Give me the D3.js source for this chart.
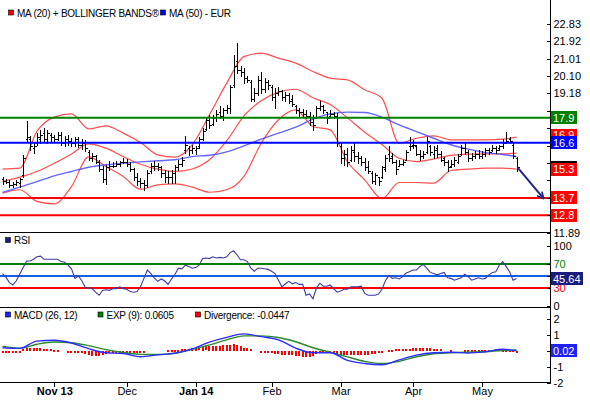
<!DOCTYPE html>
<html>
<head>
<meta charset="utf-8">
<script src="https://cdnjs.cloudflare.com/ajax/libs/d3/7.8.5/d3.min.js"></script>
<style>
  body { margin: 0; background: #ffffff; }
  svg { display: block; font-family: "Liberation Sans", Arial, sans-serif; }
</style>
</head>
<body>
<div id="chart"></div>
<script>
// ---------------------------------------------------------------
// Data (daily bars, Oct 2013 - May 2014, one entry per trading day)
var monthTicks  = [15, 36, 56, 78, 98, 119, 139];
var monthLabels = ['Nov 13', 'Dec', 'Jan 14', 'Feb', 'Mar', 'Apr', 'May'];

var opens = [
  14.7, 14.6, 14.55, 14.4, 14.45, 14.5, 14.9, 16.8, 16.8, 16.3,
  16.6, 16.8, 17.1, 16.8, 17.0, 16.9, 16.8, 17.0, 16.6, 16.8,
  16.7, 16.6, 16.8, 16.5, 16.6, 16.1, 15.8, 15.9, 15.6, 15.2,
  14.7, 15.3, 15.4, 15.4, 15.5, 15.6, 15.6, 15.5, 15.2, 14.8,
  14.6, 14.5, 14.4, 15.1, 15.4, 15.4, 15.3, 15.0, 14.8, 14.8,
  15.0, 15.3, 15.5, 16.2, 16.3, 16.2, 16.2, 16.4, 16.8, 17.3,
  17.8, 17.6, 17.9, 18.2, 18.0, 18.3, 18.4, 19.6, 20.9, 20.4,
  20.3, 20.0, 19.8, 18.9, 19.2, 19.9, 19.4, 19.8, 19.5, 19.0,
  19.2, 19.3, 19.0, 19.1, 18.9, 18.5, 18.3, 18.2, 18.1, 18.0,
  17.7, 17.9, 18.4, 18.5, 18.2, 18.0, 18.1, 18.0, 16.4, 15.8,
  16.0, 15.7, 16.1, 15.9, 15.8, 15.6, 15.3, 15.0, 14.6, 14.8,
  14.8, 15.2, 16.0, 15.9, 15.6, 15.4, 15.5, 15.7, 16.4, 16.5,
  16.4, 16.0, 15.9, 16.1, 16.4, 16.0, 16.3, 16.0, 15.8, 15.6,
  15.4, 15.5, 15.6, 16.0, 16.3, 16.1, 15.8, 15.9, 16.0, 15.9,
  16.0, 16.2, 16.2, 16.3, 16.3, 16.4, 16.6, 16.8, 16.5, 15.8
];
var highs = [
  14.82, 14.68, 14.65, 14.56, 14.65, 14.73, 15.95, 17.71, 16.96, 16.57,
  17.10, 17.27, 17.36, 17.27, 17.10, 17.01, 17.18, 17.18, 16.96, 17.01,
  16.84, 16.92, 16.92, 16.79, 16.75, 16.22, 16.05, 15.96, 15.70, 15.35,
  15.44, 15.62, 15.56, 15.62, 15.66, 15.79, 15.74, 15.56, 15.27, 15.00,
  14.73, 14.65, 15.17, 15.53, 15.62, 15.53, 15.35, 15.17, 15.09, 15.17,
  15.44, 15.70, 15.85, 16.96, 16.40, 16.48, 16.40, 16.92, 17.36, 17.97,
  18.06, 18.06, 18.32, 18.50, 18.41, 18.58, 19.63, 21.20, 21.82, 20.60,
  20.50, 20.10, 19.89, 19.46, 20.07, 20.28, 19.98, 19.89, 19.63, 19.46,
  19.51, 19.37, 19.28, 19.20, 19.11, 18.58, 18.41, 18.36, 18.32, 18.23,
  18.06, 18.54, 18.76, 18.58, 18.23, 18.32, 18.23, 18.18, 16.57, 16.22,
  16.31, 16.40, 16.57, 16.10, 15.92, 15.79, 15.62, 15.09, 15.00, 14.82,
  15.35, 15.96, 16.40, 16.05, 15.70, 15.70, 15.70, 16.22, 16.92, 16.75,
  16.48, 16.22, 16.14, 16.92, 16.48, 16.40, 16.48, 16.14, 15.87, 15.70,
  15.70, 15.87, 16.01, 16.48, 16.57, 16.22, 16.05, 16.14, 16.22, 16.14,
  16.31, 16.31, 16.48, 16.40, 16.48, 16.78, 17.18, 16.92, 16.57, 15.87
];
var lows = [
  14.44, 14.47, 14.30, 14.27, 14.40, 14.30, 14.82, 16.66, 16.22, 16.08,
  16.50, 16.57, 16.66, 16.57, 16.66, 16.66, 16.75, 16.48, 16.40, 16.48,
  16.40, 16.40, 16.36, 16.26, 16.14, 15.70, 15.66, 15.53, 15.09, 14.56,
  14.44, 15.17, 15.32, 15.35, 15.40, 15.53, 15.35, 15.09, 14.65, 14.40,
  14.30, 14.10, 14.30, 15.00, 15.17, 15.17, 14.82, 14.56, 14.47, 14.50,
  14.47, 15.17, 15.40, 16.05, 15.96, 16.08, 16.01, 16.31, 16.75, 17.27,
  17.36, 17.53, 17.71, 17.88, 17.80, 18.15, 18.18, 19.54, 20.25, 20.07,
  19.72, 19.80, 18.76, 18.76, 19.11, 19.20, 19.28, 19.40, 18.84, 18.41,
  19.11, 18.84, 18.76, 18.67, 18.50, 18.15, 17.97, 17.93, 17.88, 17.53,
  17.27, 17.88, 18.32, 18.15, 17.62, 17.97, 17.88, 16.40, 15.53, 15.44,
  15.35, 15.65, 15.62, 15.53, 15.44, 15.17, 15.00, 14.47, 14.44, 14.40,
  14.73, 15.09, 15.62, 15.53, 14.97, 15.35, 15.44, 15.70, 16.22, 16.31,
  15.96, 15.70, 15.79, 16.05, 15.96, 15.79, 15.87, 15.62, 15.44, 15.14,
  15.32, 15.35, 15.53, 15.96, 16.01, 15.62, 15.70, 15.79, 15.79, 15.79,
  15.92, 16.01, 16.14, 16.05, 16.22, 16.31, 16.57, 16.57, 15.79, 15.09
];
var closes = [
  14.6, 14.55, 14.4, 14.45, 14.55, 14.7, 15.8, 16.9, 16.4, 16.4,
  16.9, 17.0, 16.8, 17.1, 16.9, 16.8, 17.0, 16.6, 16.8, 16.7,
  16.6, 16.8, 16.5, 16.6, 16.3, 15.8, 15.9, 15.6, 15.2, 14.7,
  15.3, 15.4, 15.4, 15.5, 15.6, 15.6, 15.5, 15.2, 14.8, 14.6,
  14.5, 14.4, 15.0, 15.4, 15.4, 15.3, 15.0, 14.8, 14.8, 15.0,
  15.3, 15.5, 15.7, 16.5, 16.2, 16.3, 16.3, 16.8, 17.2, 17.8,
  17.5, 17.9, 18.1, 18.0, 18.3, 18.4, 19.5, 20.6, 20.4, 20.3,
  20.0, 19.9, 18.9, 19.2, 19.9, 19.4, 19.8, 19.6, 19.0, 19.2,
  19.3, 19.0, 19.1, 18.8, 18.6, 18.3, 18.2, 18.1, 18.0, 17.7,
  17.5, 18.4, 18.5, 18.3, 17.9, 18.1, 18.0, 16.6, 15.8, 16.0,
  15.6, 16.2, 15.9, 15.8, 15.6, 15.3, 15.1, 14.6, 14.9, 14.6,
  15.3, 15.8, 15.8, 15.6, 15.2, 15.5, 15.6, 16.1, 16.4, 16.5,
  16.0, 15.9, 16.0, 16.7, 16.1, 16.2, 16.0, 15.7, 15.6, 15.3,
  15.5, 15.7, 15.9, 16.3, 16.1, 15.8, 15.9, 16.0, 15.9, 16.0,
  16.2, 16.1, 16.3, 16.2, 16.4, 16.6, 16.7, 16.7, 15.9, 15.3
];

// indicator lines read every 5th bar
var bandIdx = [0, 5, 10, 15, 20, 25, 30, 35, 40, 45, 50, 55, 60, 65, 70, 75,
               80, 85, 90, 95, 100, 105, 110, 115, 120, 125, 130, 135, 140, 145, 149];
var upperBand = [15.21, 15.26, 17.2, 17.94, 18.11, 17.32, 17.48, 17.1, 16.61, 15.96,
                 15.84, 16.48, 18.06, 19.72, 21.11, 21.29, 21.03, 20.77, 20.33, 19.98,
                 19.89, 19.37, 18.93, 16.57, 16.83, 16.96, 16.75, 16.75, 16.75, 16.78, 16.89];
var ma20 = [14.56, 14.79, 15.09, 15.52, 16.01, 16.54, 16.31, 15.87, 15.47, 15.21,
            15.09, 15.22, 15.7, 16.7, 18.0, 18.8, 19.25, 19.4, 18.95, 18.6,
            17.9, 17.15, 16.5, 15.78, 15.61, 15.75, 15.93, 16.0, 16.01, 16.01, 16.05];
var lowerBand = [13.95, 14.13, 13.52, 13.39, 14.3, 15.85, 15.35, 14.83, 14.16, 14.39,
                 14.44, 14.27, 14.0, 14.13, 14.83, 16.57, 17.8, 18.32, 17.45, 17.27,
                 15.6, 14.65, 13.67, 14.51, 14.51, 14.48, 15.14, 15.21, 15.26, 15.26, 15.21];
var ma50 = [13.99, 14.27, 14.56, 14.86, 15.09, 15.31, 15.44, 15.52, 15.59, 15.65,
            15.7, 15.87, 15.94, 16.12, 16.43, 16.78, 17.1, 17.41, 17.83, 18.11,
            18.2, 18.18, 17.94, 17.53, 17.18, 16.83, 16.49, 16.26, 16.08, 15.98, 15.87];

var rsi = [
  54, 48, 39, 35, 42, 53, 64, 75, 75, 78,
  82, 83, 78, 78, 78, 78, 78, 74, 73, 68,
  62, 46, 50, 42, 31, 30, 29, 23, 18, 26,
  27, 26, 29, 29, 32, 29, 28, 24, 23, 24,
  32, 46, 60, 54, 47, 41, 45, 42, 36, 45,
  53, 63, 62, 68, 66, 63, 64, 68, 79, 80,
  79, 82, 80, 81, 80, 82, 89, 92, 85, 77,
  77, 74, 63, 58, 63, 63, 62, 61, 58, 54,
  43, 32, 37, 41, 37, 39, 36, 36, 18, 20,
  12, 30, 38, 33, 33, 35, 29, 23, 25, 28,
  28, 32, 32, 32, 33, 21, 18, 18, 18, 20,
  28, 42, 51, 46, 47, 45, 49, 55, 57, 60,
  60, 66, 69, 63, 56, 54, 52, 54, 56, 47,
  46, 43, 45, 47, 53, 49, 43, 45, 47, 45,
  46, 52, 56, 57, 68, 74, 66, 57, 43, 45.64
];
var rsiLevels = [70, 50, 30];

var macd = [0.2, 0.16, 0.62, 0.67, 0.5, 0.14, -0.12, -0.16, -0.37, -0.25,
            -0.14, 0.13, 0.56, 0.86, 1.08, 0.9, 0.7, 0.18, -0.12, -0.12,
            -0.6, -0.8, -0.88, -0.57, -0.27, -0.12, -0.09, -0.13, -0.05, 0.1, 0.02];
var expLine = [0.3, 0.17, 0.42, 0.56, 0.52, 0.33, 0.08, -0.1, -0.22, -0.23,
               -0.15, 0.1, 0.38, 0.7, 0.95, 0.95, 0.85, 0.58, 0.2, -0.08,
               -0.38, -0.66, -0.8, -0.66, -0.37, -0.18, -0.12, -0.08, -0.05, 0.03, 0.06];
var divergence = [
  -0.1, -0.1, -0.1, -0.1, -0.1, -0.1, 0.15, 0.2, 0.2, 0.2,
  0.2, 0.2, 0.15, 0.1, 0.1, 0.05, 0.05, 0, 0, -0.05,
  -0.05, -0.1, -0.1, -0.15, -0.2, -0.25, -0.3, -0.3, -0.3, -0.25,
  -0.2, -0.15, -0.1, -0.1, -0.1, -0.1, -0.1, -0.1, -0.1, -0.08,
  -0.08, -0.08, 0, 0, 0, 0, 0, 0, 0.05, 0.05,
  0.05, 0.08, 0.1, 0.12, 0.15, 0.18, 0.2, 0.22, 0.25, 0.28,
  0.3, 0.3, 0.3, 0.3, 0.35, 0.4, 0.4, 0.45, 0.4, 0.3,
  0.2, 0.2, 0.15, 0, 0, -0.05, -0.08, -0.1, -0.15, -0.2,
  -0.2, -0.25, -0.25, -0.25, -0.25, -0.3, -0.3, -0.35, -0.35, -0.35,
  -0.3, -0.2, -0.15, -0.1, -0.05, -0.1, -0.15, -0.2, -0.25, -0.25,
  -0.25, -0.25, -0.25, -0.25, -0.25, -0.25, -0.25, -0.2, -0.2, -0.15,
  -0.05, 0, 0.08, 0.08, 0.1, 0.12, 0.15, 0.15, 0.15, 0.2,
  0.2, 0.2, 0.2, 0.18, 0.18, 0.15, 0.15, 0.1, 0, 0,
  0.05, 0, 0, 0, 0.08, 0.08, 0.08, 0.08, 0.08, 0.08,
  0.08, 0.08, 0.08, 0.1, 0.1, 0.08, 0.05, 0.03, 0.03, -0.0447
];

// horizontal levels on price panel
var levelValues = [17.9, 16.6, 13.7, 12.8];
var levelColors = ['#008000', '#0000ff', '#ff0000', '#ff0000'];

// target arrow (from last close to 13.7)
var arrowFrom = [149, 15.3];
var arrowTo = [156.7, 13.7];

// right side value boxes (black one is the last close, hidden behind the band box)
var boxValues = [17.9, 17.0, 16.6, 15.3, 15.2, 13.7, 12.8];
var boxTexts  = ['17.9', '16.9', '16.6', '', '15.3', '13.7', '12.8'];
var boxColors = ['#008000', '#ff0000', '#0000ff', '#000000', '#ff0000', '#ff0000', '#ff0000'];

var mainTicks = [22.83, 21.92, 21.01, 20.10, 19.18, 18.27, 17.36, 16.45, 15.54, 14.62, 13.71, 12.80, 11.89];
var mainTickLabels = ['22.83', '21.92', '21.01', '20.10', '19.18', '', '', '', '', '', '', '', '11.89'];
var rsiTicks = [100, 70, 50, 30, 0];
var rsiTickColors = ['#000000', '#008000', '#0000ff', '#ff0000', '#000000'];
var macdTicks = [2, 1, 0, -1, -2];
var macdTickLabels = ['2', '1', '', '-1', '-2'];

// ---------------------------------------------------------------
var W = 590, H = 400;
var plotRight = 550;
var mainBottom = 232.5, rsiBottom = 307.5, macdBottom = 382.5;

var svg = d3.select('#chart').append('svg')
    .attr('width', W)
    .attr('height', H);

var x = d3.scaleLinear().domain([0, closes.length - 1]).range([2.5, 516.5]);
var yMain = d3.scaleLinear().domain([11.89, 22.83]).range([mainBottom, 23.8]);
var yRsi = d3.scaleLinear().domain([0, 100]).range([306, 246]);
var yMacd = d3.scaleLinear().domain([-2, 2]).range([macdBottom, 319.3]);

function px(v) { return Math.round(v) + 0.5; }

var defs = svg.append('defs');
function addClip(id, y0, y1) {
    defs.append('clipPath').attr('id', id).append('rect')
        .attr('x', 0).attr('y', y0).attr('width', plotRight).attr('height', y1 - y0);
}
addClip('clipMain', 0, mainBottom);
addClip('clipRsi', mainBottom, rsiBottom);
addClip('clipMacd', rsiBottom, macdBottom);

defs.append('marker')
    .attr('id', 'arrowHead')
    .attr('viewBox', '0 0 10 10')
    .attr('refX', 8).attr('refY', 5)
    .attr('markerWidth', 4).attr('markerHeight', 4)
    .attr('orient', 'auto')
  .append('path')
    .attr('d', 'M1,1 L9,5 L1,9')
    .attr('fill', 'none')
    .attr('stroke', '#22228c')
    .attr('stroke-width', 2.2);

//----------------------------------------
// Price panel
var main = svg.append('g').attr('clip-path', 'url(#clipMain)');

var bandLine = d3.line()
    .x(function(d, i) { return x(bandIdx[i]); })
    .y(function(d) { return yMain(d); })
    .curve(d3.curveMonotoneX);

[upperBand, ma20, lowerBand].forEach(function(b) {
    main.append('path')
        .attr('d', bandLine(b))
        .attr('fill', 'none')
        .attr('stroke', '#ff3b3b')
        .attr('stroke-width', 1.2)
        .attr('stroke-opacity', 0.9);
});
main.append('path')
    .attr('d', bandLine(ma50))
    .attr('fill', 'none')
    .attr('stroke', '#4a4aff')
    .attr('stroke-width', 1.4)
    .attr('stroke-opacity', 0.85);

// OHLC bars
var bars = main.selectAll('g.bar')
    .data(closes)
    .enter()
    .append('g')
    .attr('class', 'bar')
    .attr('stroke', '#000')
    .attr('stroke-width', 1)
    .attr('shape-rendering', 'crispEdges');
bars.append('line')
    .attr('x1', function(d, i) { return px(x(i)); })
    .attr('x2', function(d, i) { return px(x(i)); })
    .attr('y1', function(d, i) { return yMain(highs[i]); })
    .attr('y2', function(d, i) { return yMain(lows[i]) + 1; });
bars.append('line')
    .attr('x1', function(d, i) { return px(x(i)) - 2; })
    .attr('x2', function(d, i) { return px(x(i)); })
    .attr('y1', function(d, i) { return px(yMain(opens[i])); })
    .attr('y2', function(d, i) { return px(yMain(opens[i])); });
bars.append('line')
    .attr('x1', function(d, i) { return px(x(i)); })
    .attr('x2', function(d, i) { return px(x(i)) + 2; })
    .attr('y1', function(d) { return px(yMain(d)); })
    .attr('y2', function(d) { return px(yMain(d)); });

// level lines
svg.selectAll('line.level')
    .data(levelValues)
    .enter()
    .append('line')
    .attr('class', 'level')
    .attr('x1', 0).attr('x2', plotRight)
    .attr('y1', function(d) { return yMain(d); })
    .attr('y2', function(d) { return yMain(d); })
    .attr('stroke', function(d, i) { return levelColors[i]; })
    .attr('stroke-width', 2);

// arrow
svg.append('line')
    .attr('x1', x(arrowFrom[0]) + 1).attr('y1', yMain(arrowFrom[1]))
    .attr('x2', x(arrowTo[0])).attr('y2', yMain(arrowTo[1]))
    .attr('stroke', '#22228c')
    .attr('stroke-width', 2)
    .attr('marker-end', 'url(#arrowHead)');

//----------------------------------------
// RSI panel
var rsiG = svg.append('g').attr('clip-path', 'url(#clipRsi)');
rsiG.selectAll('line.rl')
    .data(rsiLevels)
    .enter()
    .append('line')
    .attr('x1', 0).attr('x2', plotRight)
    .attr('y1', function(d) { return yRsi(d); })
    .attr('y2', function(d) { return yRsi(d); })
    .attr('stroke', function(d, i) { return ['#008000', '#1560e6', '#ff0000'][i]; })
    .attr('stroke-width', 2);
rsiG.append('path')
    .attr('d', d3.line()
        .x(function(d, i) { return x(i); })
        .y(function(d) { return yRsi(d); })(rsi))
    .attr('fill', 'none')
    .attr('stroke', '#3b3ba6')
    .attr('stroke-width', 1.1);

//----------------------------------------
// MACD panel
var macdG = svg.append('g').attr('clip-path', 'url(#clipMacd)');
macdG.selectAll('rect.div')
    .data(divergence.map(function(d, i) { return {i: i, v: d}; })
        .filter(function(d) { return d.v !== 0; }))
    .enter()
    .append('rect')
    .attr('class', 'div')
    .attr('x', function(d) { return Math.round(x(d.i)) - 1; })
    .attr('width', 2)
    .attr('y', function(d) { return Math.round(Math.min(yMacd(0), yMacd(d.v))); })
    .attr('height', function(d) { return Math.max(2, Math.round(Math.abs(yMacd(d.v) - yMacd(0)))); })
    .attr('fill', '#ff0000');

var macdLine = d3.line()
    .x(function(d, i) { return x(bandIdx[i]); })
    .y(function(d) { return yMacd(d); })
    .curve(d3.curveMonotoneX);
macdG.append('path')
    .attr('d', macdLine(expLine))
    .attr('fill', 'none')
    .attr('stroke', '#2a8a2a')
    .attr('stroke-width', 1.4);
macdG.append('path')
    .attr('d', macdLine(macd))
    .attr('fill', 'none')
    .attr('stroke', '#2b2bff')
    .attr('stroke-width', 1.4);

//----------------------------------------
// Frame lines
var frame = svg.append('g').attr('stroke', '#000').attr('shape-rendering', 'crispEdges');
[mainBottom, rsiBottom, macdBottom].forEach(function(yy) {
    frame.append('line').attr('x1', 0).attr('x2', plotRight).attr('y1', yy).attr('y2', yy);
});
frame.append('line').attr('x1', plotRight + 0.5).attr('x2', plotRight + 0.5)
    .attr('y1', 0).attr('y2', macdBottom);

//----------------------------------------
// Axes
function styleAxis(g) {
    g.select('.domain').remove();
    g.attr('font-family', '"Liberation Sans", Arial, sans-serif').attr('font-size', 11);
    g.selectAll('.tick line').attr('stroke', '#000').attr('shape-rendering', 'crispEdges');
    g.selectAll('.tick text').attr('fill', '#000');
}

svg.append('g')
    .attr('transform', 'translate(' + (plotRight + 0.5) + ',0)')
    .call(d3.axisRight(yMain).tickValues(mainTicks).tickSize(-4).tickPadding(3)
        .tickFormat(function(d, i) { return mainTickLabels[i]; }))
    .call(styleAxis);

var rsiAxis = svg.append('g')
    .attr('transform', 'translate(' + (plotRight + 0.5) + ',0)')
    .call(d3.axisRight(yRsi).tickValues(rsiTicks).tickSize(-4).tickPadding(3)
        .tickFormat(function(d) { return String(d); }))
    .call(styleAxis);
rsiAxis.selectAll('.tick text').attr('fill', function(d, i) { return rsiTickColors[i]; });

svg.append('g')
    .attr('transform', 'translate(' + (plotRight + 0.5) + ',0)')
    .call(d3.axisRight(yMacd).tickValues(macdTicks).tickSize(-4).tickPadding(3)
        .tickFormat(function(d, i) { return macdTickLabels[i]; }))
    .call(styleAxis);

var xAxis = svg.append('g')
    .attr('transform', 'translate(0,' + macdBottom + ')')
    .call(d3.axisBottom(x).tickValues(monthTicks).tickSize(4).tickPadding(1)
        .tickFormat(function(d, i) { return monthLabels[i]; }))
    .call(styleAxis);
xAxis.selectAll('.tick text')
    .attr('font-weight', function(d, i) { return /\d/.test(monthLabels[i]) ? 'bold' : 'normal'; });

//----------------------------------------
// Value boxes on the right
function valueBox(yy, text, color, w) {
    var g = svg.append('g');
    g.append('rect')
        .attr('x', plotRight + 1).attr('y', Math.round(yy - 6.5))
        .attr('width', w).attr('height', 13)
        .attr('fill', color);
    if (text) {
        g.append('text')
            .attr('x', plotRight + 3).attr('y', yy + 4)
            .attr('font-size', 11)
            .attr('fill', '#fff')
            .text(text);
    }
}
boxValues.forEach(function(v, i) {
    valueBox(yMain(v), boxTexts[i], boxColors[i], 26);
});
valueBox(yRsi(rsi[rsi.length - 1]), d3.format('.2f')(rsi[rsi.length - 1]), '#1b1b7e', 32);
valueBox(yMacd(macd[macd.length - 1]), d3.format('.2f')(macd[macd.length - 1]), '#1f1fff', 26);

//----------------------------------------
// Legends
function legend(x0, yy, color, text) {
    var g = svg.append('g');
    g.append('rect')
        .attr('x', x0 + 0.5).attr('y', yy - 6.5)
        .attr('width', 5).attr('height', 5)
        .attr('fill', color)
        .attr('stroke', '#000').attr('stroke-width', 0.6);
    g.append('text')
        .attr('x', x0 + 9).attr('y', yy)
        .attr('font-size', 10)
        .attr('letter-spacing', '-0.25px')
        .attr('fill', '#000')
        .text(text);
}
legend(8, 16.5, '#ff0000', 'MA (20) + BOLLINGER BANDS\u00ae');
legend(160, 16.5, '#0000ff', 'MA (50) - EUR');
legend(5, 244, '#1b1b7e', 'RSI');
legend(5, 318.5, '#2020ff', 'MACD (26, 12)');
legend(97.5, 318.5, '#008000', 'EXP (9): 0.0605');
legend(195, 318.5, '#ff0000', 'Divergence: -0.0447');
</script>
</body>
</html>
